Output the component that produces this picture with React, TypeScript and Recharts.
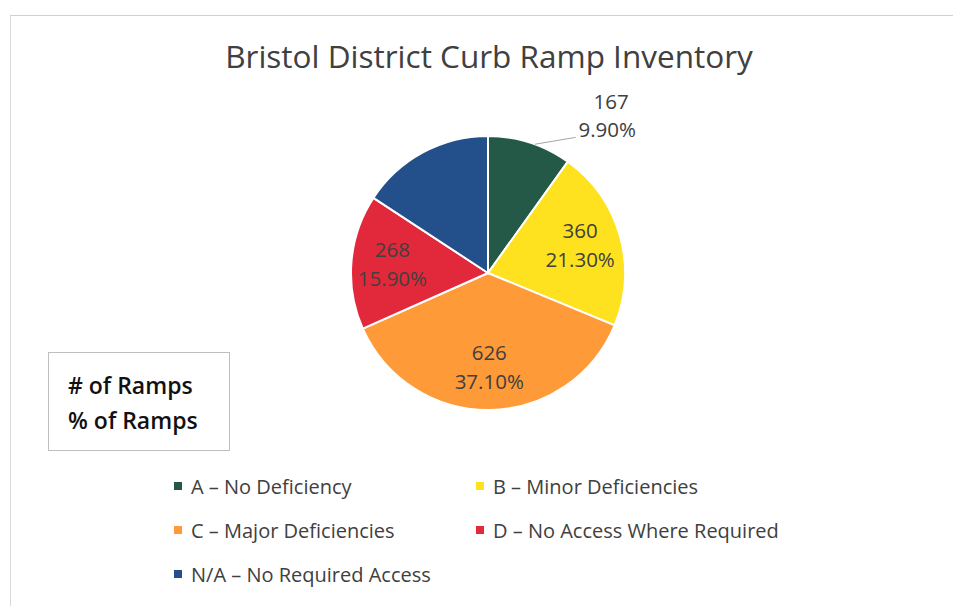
import React from 'react';
import { PieChart, Pie, Cell, Legend } from 'recharts';

const categories = [
  'A – No Deficiency',
  'B – Minor Deficiencies',
  'C – Major Deficiencies',
  'D – No Access Where Required',
  'N/A – No Required Access',
];
const ramps = [167, 360, 626, 268, 266];
const percentLabels = ['9.90%', '21.30%', '37.10%', '15.90%', ''];
const colors = ['#245847', '#FFE21F', '#FF9A38', '#E2293C', '#23508A'];

const data = categories.map((name, i) => ({
  name,
  value: ramps[i],
  pct: percentLabels[i],
}));

const RAD = Math.PI / 180;

const renderLabel = (props: any) => {
  const { cx, cy, midAngle, outerRadius, index } = props;
  if (!percentLabels[index]) return null;
  const style = { fontFamily: 'Open Sans, sans-serif', fontSize: 20.5, fill: '#404040' };
  if (index === 0) {
    // outside label with leader line
    const sx = cx + outerRadius * Math.cos(70 * RAD);
    const sy = cy - outerRadius * Math.sin(70 * RAD);
    const ex = cx + outerRadius * 0.64;
    const ey = cy - outerRadius * 0.99;
    const tx = cx + outerRadius * 0.87;
    return (
      <g>
        <path d={`M${sx},${sy}L${ex},${ey}`} stroke="#a6a6a6" strokeWidth={1} fill="none" />
        <text x={tx + 4} y={cy - outerRadius * 1.24} textAnchor="middle" dominantBaseline="middle" {...style}>
          {ramps[index]}
        </text>
        <text x={tx} y={cy - outerRadius * 1.03} textAnchor="middle" dominantBaseline="middle" {...style}>
          {percentLabels[index]}
        </text>
      </g>
    );
  }
  const r = outerRadius * 0.7;
  const x = cx + r * Math.cos(-midAngle * RAD);
  const y = cy + r * Math.sin(-midAngle * RAD);
  return (
    <g>
      <text x={x} y={y - 14} textAnchor="middle" dominantBaseline="middle" {...style}>
        {ramps[index]}
      </text>
      <text x={x} y={y + 15} textAnchor="middle" dominantBaseline="middle" {...style}>
        {percentLabels[index]}
      </text>
    </g>
  );
};

const renderLegend = () => (
  <div
    style={{
      display: 'grid',
      gridTemplateColumns: '302px 360px',
      rowGap: 22,
      fontFamily: 'Open Sans, sans-serif',
      fontSize: 20,
      color: '#404040',
    }}
  >
    {categories.map((c, i) => (
      <div key={c} style={{ display: 'flex', alignItems: 'center', height: 22 }}>
        <span
          style={{ width: 8, height: 8, background: colors[i], display: 'inline-block', marginRight: 9 }}
        />
        {c}
      </div>
    ))}
  </div>
);

export default function App() {
  return (
    <div
      style={{
        position: 'absolute',
        left: 0,
        top: 0,
        width: 953,
        height: 606,
        background: '#fff',
        overflow: 'hidden',
      }}
    >
      <div
        style={{
          position: 'absolute',
          left: 10,
          top: 15,
          width: 960,
          height: 620,
          borderLeft: '1px solid #d9d9d9',
          borderTop: '1px solid #d0d0d0',
        }}
      />
      <div
        style={{
          position: 'absolute',
          left: 0,
          top: 34,
          width: 978,
          textAlign: 'center',
          fontFamily: 'Open Sans, sans-serif',
          fontSize: 31.5,
          color: '#404040',
        }}
      >
        Bristol District Curb Ramp Inventory
      </div>
      <PieChart width={953} height={606} style={{ position: 'absolute', left: 0, top: 0 }}>
        <Pie
          data={data}
          dataKey="value"
          nameKey="name"
          cx={483}
          cy={268}
          outerRadius={137}
          startAngle={90}
          endAngle={-270}
          stroke="#ffffff"
          strokeWidth={2}
          label={renderLabel}
          labelLine={false}
          isAnimationActive={false}
        >
          {data.map((d, i) => (
            <Cell key={d.name} fill={colors[i]} />
          ))}
        </Pie>
        <Legend
          content={renderLegend}
          layout="vertical"
          wrapperStyle={{ position: 'absolute', left: 174, top: 475, width: 700 }}
        />
      </PieChart>
      <div
        style={{
          position: 'absolute',
          left: 48,
          top: 352,
          width: 182,
          height: 99,
          border: '1px solid #bfbfbf',
          boxSizing: 'border-box',
          padding: '15px 0 0 19px',
          fontFamily: 'Open Sans, sans-serif',
          fontSize: 23,
          fontWeight: 600,
          lineHeight: '35px',
          color: '#111',
        }}
      >
        # of Ramps
        <br />% of Ramps
      </div>
    </div>
  );
}
